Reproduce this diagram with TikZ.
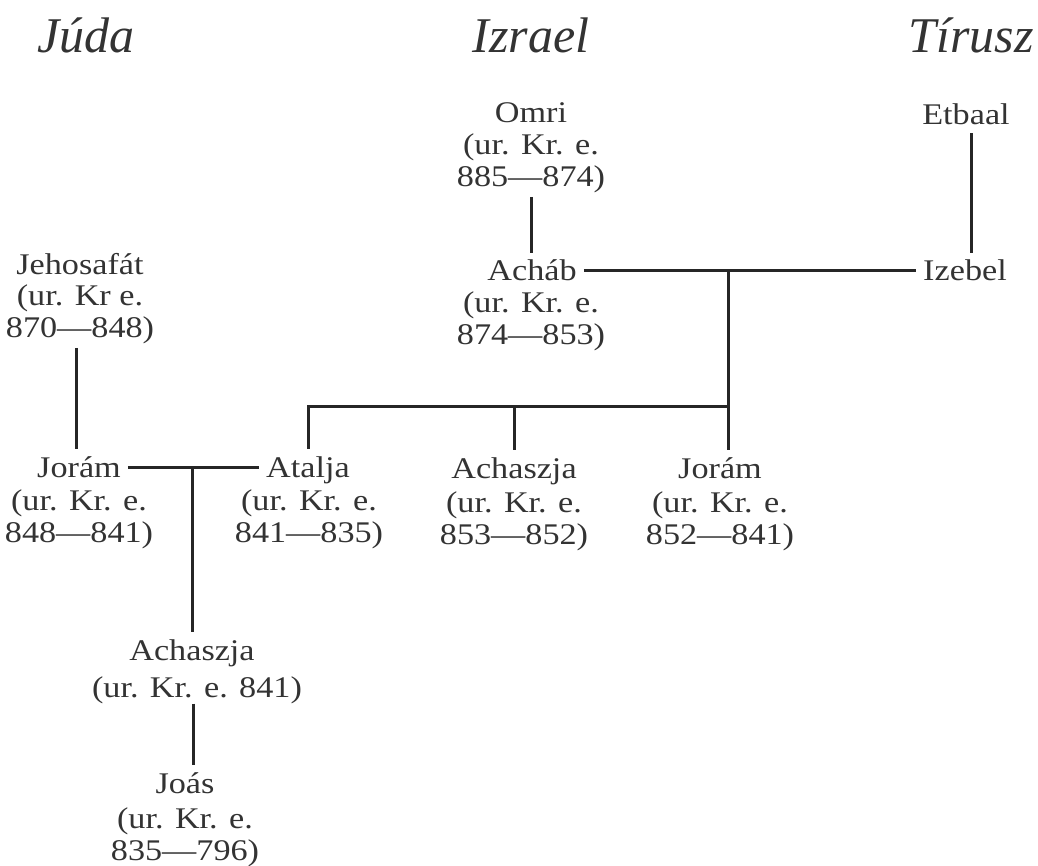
\documentclass[tikz,border=0pt]{standalone}
\usepackage{fontspec}
\setmainfont{Liberation Serif}
\newfontfamily\bodyfont[FakeStretch=1.14]{Liberation Serif}
\newfontfamily\headfont{Liberation Serif}
\usetikzlibrary{calc}
\definecolor{ink}{HTML}{333333}
\definecolor{lineink}{HTML}{262626}
\newcommand{\dlines}[1]{\begin{tabular}[t]{@{}c@{}}#1\end{tabular}}
\begin{document}
\begin{tikzpicture}[x=1pt,y=-1pt,
  person/.style={anchor=base, font=\bodyfont\fontsize{30}{32}\selectfont, text=ink,
                 text height=20pt, text depth=0pt, inner xsep=7pt, inner ysep=8pt},
  datebox/.style={anchor=base, font=\bodyfont\fontsize{30}{32}\selectfont, text=ink, inner sep=0pt},
  headline/.style={anchor=base, font=\headfont\itshape\fontsize{50}{56}\selectfont, text=ink},
  conn/.style={draw=lineink, line width=3pt}]
\useasboundingbox (0,0) rectangle (1038,866);

% headings
\node[headline] (hjuda) at (86,53) {Júda};
\node[headline] (hizrael) at (531,53) {Izrael};
\node[headline] (htirusz) at (971,53) {Tírusz};

% Izrael
\node[person] (omri) at (531,123) {Omri};
\node[datebox] (omrid) at (531,155) {\dlines{(ur. Kr. e.\\885—874)}};
\node[person] (achab) at (532,281) {Acháb};
\node[datebox] (achabd) at (531,313) {\dlines{(ur. Kr. e.\\874—853)}};

% Tirusz
\node[person] (etbaal) at (966,125) {Etbaal};
\node[person] (izebel) at (965,281) {Izebel};

% children of Achab and Izebel
\node[person] (atalja) at (308,477) {Atalja};
\node[datebox] (ataljad) at (309,510) {\dlines{(ur. Kr. e.\\841—835)}};
\node[person] (achI) at (514,478) {Achaszja};
\node[datebox] (achId) at (514,512) {\dlines{(ur. Kr. e.\\853—852)}};
\node[person] (joramI) at (720,478) {Jorám};
\node[datebox] (joramId) at (720,512) {\dlines{(ur. Kr. e.\\852—841)}};

% Juda
\node[person] (jehos) at (80,275) {Jehosafát};
\node[datebox] (jehosd) at (80,306) {\dlines{(ur. Kr e.\\870—848)}};
\node[person] (joramJ) at (79,477) {Jorám};
\node[datebox] (joramJd) at (79,510) {\dlines{(ur. Kr. e.\\848—841)}};
\node[person] (achJ) at (192,660) {Achaszja};
\node[datebox] (achJd) at (197,697) {(ur. Kr. e. 841)};
\node[person] (joas) at (185,793) {Joás};
\node[datebox] (joasd) at (185,828) {\dlines{(ur. Kr. e.\\835—796)}};

% junctions
\coordinate (m1) at (728,272);
\coordinate (sb) at (0,406);
\coordinate (m2) at (192,467);

% connectors
\draw[conn] (omrid.south) -- (omrid.south |- achab.north);
\draw[conn] ([xshift=5pt]etbaal.south) -- ([xshift=5pt]etbaal.south |- izebel.north);
\draw[conn] (achab.east) -- (izebel.west);
\draw[conn] (m1 |- achab.east) -- (m1 |- joramI.north);
\draw[conn] (atalja.north) -- (atalja.north |- sb) -- (m1 |- sb);
\draw[conn] (achI.north) -- (achI.north |- sb);
\draw[conn] ([xshift=-4pt]jehosd.south) -- ([xshift=-4pt]jehosd.south |- joramJ.north);
\draw[conn] (joramJ.east) -- (atalja.west);
\draw[conn] (m2 |- joramJ.east) -- (m2 |- achJ.north);
\draw[conn] ([xshift=-4pt]achJd.south) -- ([xshift=-4pt]achJd.south |- joas.north);
\end{tikzpicture}
\end{document}
